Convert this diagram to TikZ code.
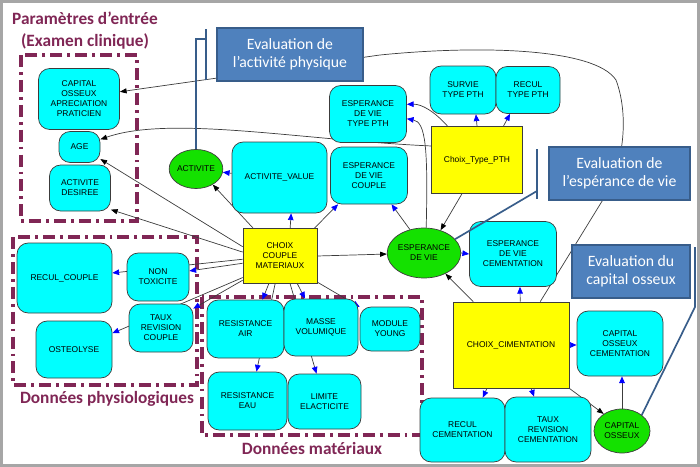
\documentclass[tikz,border=0pt]{standalone}
\usepackage{fontspec}
\setmainfont{Carlito}
\newfontfamily\netfont{Liberation Sans}
\usetikzlibrary{arrows.meta,shapes.geometric,backgrounds}
\definecolor{maroonA}{RGB}{128,38,85}
\definecolor{evalA}{RGB}{79,129,189}
\definecolor{evalB}{RGB}{56,93,138}
\definecolor{cyanA}{RGB}{0,255,255}
\definecolor{yellowA}{RGB}{255,255,0}
\definecolor{greenA}{RGB}{20,225,0}
\definecolor{edgeA}{RGB}{60,60,60}
\newcommand{\dashframe}[2]{\draw[maroonA,line width=2.8pt,dash pattern=on 8.5pt off 3.6pt on 2pt off 3.6pt] #1 rectangle #2;}

\begin{document}
\begin{tikzpicture}[x=0.025cm,y=-0.025cm,
	net/.style={draw=edgeA,line width=0.5pt,inner sep=0pt,align=center,font=\netfont\fontsize{6}{7.1}\selectfont},
	cbox/.style={net,fill=cyanA,rounded corners=8pt},
	ybox/.style={net,fill=yellowA},
	gnode/.style={net,ellipse,fill=greenA},
	evalbox/.style={draw=evalB,line width=1.4pt,fill=evalA,text=white,inner sep=0pt,align=center,font=\fontsize{11.2}{13}\selectfont},
	ttl/.style={text=maroonA,font=\fontsize{12.3}{14}\selectfont\bfseries},
	sz/.style 2 args={minimum width=#1*0.025cm,minimum height=#2*0.025cm},
	blk/.style={edgeA,line width=0.5pt,-{Triangle[length=4.8pt,width=3.6pt,color=black]}},
	blu/.style={edgeA,line width=0.5pt,-{Triangle[length=4.8pt,width=4pt,color=blue]}},
	brk/.style={evalB,line width=1.2pt}]
	\useasboundingbox (0,0) rectangle (700,467);

	\node[ttl] (ttlparam) at (85,18) {Paramètres d’entrée};
	\node[ttl] (ttlexam) at (85,41) {(Examen clinique)};
	\node[ttl] (ttlphys) at (107,399) {Données physiologiques};
	\node[ttl] (ttlmat) at (312,448) {Données matériaux};

	\node[cbox,sz={81}{61}] (capprat) at (79,99) {CAPITAL\\OSSEUX\\APRECIATION\\PRATICIEN};
	\node[cbox,sz={41}{31}] (age) at (79.5,147) {AGE};
	\node[cbox,sz={61}{46}] (actdes) at (80,188) {ACTIVITE\\DESIREE};
	\node[gnode,sz={53}{39}] (act) at (196,169) {ACTIVITE};
	\node[cbox,sz={95}{71}] (actval) at (279.5,177.5) {ACTIVITE\_VALUE};
	\node[cbox,sz={77}{57}] (evtpth) at (368,114) {ESPERANCE\\DE VIE\\TYPE PTH};
	\node[cbox,sz={77}{57}] (evcpl) at (369,175.5) {ESPERANCE\\DE VIE\\COUPLE};
	\node[cbox,sz={66}{48}] (survie) at (463,90) {SURVIE\\TYPE PTH};
	\node[cbox,sz={64}{47}] (recpth) at (528,90) {RECUL\\TYPE PTH};
	\node[ybox,sz={91}{67}] (choixpth) at (477,160) {Choix\_Type\_PTH};
	\node[ybox,sz={74}{55}] (choixcpl) at (280,256) {CHOIX\\COUPLE\\MATERIAUX};
	\node[gnode,sz={66}{50}] (espvie) at (424,253) {ESPERANCE\\DE VIE};
	\node[cbox,sz={87}{65}] (evcem) at (513,254) {ESPERANCE\\DE VIE\\CEMENTATION};
	\node[ybox,sz={116}{86}] (choixcim) at (511,345) {CHOIX\_CIMENTATION};
	\node[cbox,sz={86}{65}] (capcem) at (620,343.5) {CAPITAL\\OSSEUX\\CEMENTATION};
	\node[cbox,sz={85}{64}] (reccem) at (462.5,430) {RECUL\\CEMENTATION};
	\node[cbox,sz={86}{65}] (tauxcem) at (548,429.5) {TAUX\\REVISION\\CEMENTATION};
	\node[gnode,sz={56}{44}] (capos) at (622,431) {CAPITAL\\OSSEUX};
	\node[cbox,sz={95}{70}] (reccpl) at (64.5,278) {RECUL\_COUPLE};
	\node[cbox,sz={62}{48}] (nontox) at (158,277) {NON\\TOXICITE};
	\node[cbox,sz={64}{48}] (tauxcpl) at (161,328) {TAUX\\REVISION\\COUPLE};
	\node[cbox,sz={76}{57}] (osteo) at (74,349.5) {OSTEOLYSE};
	\node[cbox,sz={77}{58}] (resair) at (245.5,329) {RESISTANCE\\AIR};
	\node[cbox,sz={74}{57}] (masse) at (321,327.5) {MASSE\\VOLUMIQUE};
	\node[cbox,sz={60}{44}] (module) at (390,329) {MODULE\\YOUNG};
	\node[cbox,sz={79}{58}] (reseau) at (247.5,401) {RESISTANCE\\EAU};
	\node[cbox,sz={73}{55}] (limite) at (324.5,401.5) {LIMITE\\ELACTICITE};

	\node[evalbox,sz={146}{53}] (evact) at (290,54.5) {Evaluation de\\l’activité physique};
	\node[evalbox,sz={141}{53}] (evesp) at (619.5,173.5) {Evaluation de\\l’espérance de vie};
	\node[evalbox,sz={118}{53}] (evcap) at (631,271.5) {Evaluation du\\capital osseux};

	\coordinate (brA) at (206,39);
	\coordinate (brE) at (537,191);
	\coordinate (brC) at (695,307);
	\draw[brk] (206,29) -- (206,80);
	\draw[brk] (brA) -| (act.north);
	\draw[brk] (537,149) -- (537,199);
	\draw[brk] (brE) -- (espvie.24);
	\draw[brk] (695,247) -- (brC) -- (capos.39);

	\begin{pgfonlayer}{background}
		\dashframe{(21,55)}{(137,221)}
		\dashframe{(13,237)}{(197,385)}
		\dashframe{(202,297)}{(422,435)}
		\draw[blk] (choixcpl.166) -- (age.-30);
		\draw[blk] (choixcpl.174) -- (actdes.-35);
		\draw[blk] (choixcpl.134) -- (act.-43);
		\draw[blu] (choixcpl.70) -- (actval.-72);
		\draw[blu] (choixcpl.39) -- (evcpl.-137);
		\draw[blk] (choixcpl.east) -- (espvie);
		\draw[blu] (choixcpl.191) -- (nontox.11);
		\draw[blu] (choixcpl.185) -- (reccpl.6);
		\draw[blu] (choixcpl.213) -- (tauxcpl.31);
		\draw[blu] (choixcpl.210) -- (osteo.23);
		\draw[blu] (choixcpl.248) -- (resair.60);
		\draw[blu] (choixcpl.260) -- (reseau.73);
		\draw[blu] (choixcpl.-70) -- (limite.106);
		\draw[blu] (choixcpl.-58) -- (masse.119);
		\draw[blu] (choixcpl.-35) -- (module.144);
		\draw[blu] (actval.175) -- (act);
		\draw[blu] (choixpth.north) -- (survie.-62);
		\draw[blu] (choixpth.52) -- (recpth.233);
		\draw[blu] (choixpth.131) .. controls (435,112) and (422,104) .. (evtpth.14);
		\draw[blk] (choixpth.-114) -- (espvie.54);
		\draw[blk] (choixpth.163) .. controls (300,140) and (170,115) .. (age.20);
		\draw[blu] (espvie.121) -- (evcpl.-52);
		\draw[blu] (espvie.85) .. controls (428,150) and (426,122) .. (evtpth.-7);
		\draw[blu] (espvie.east) -- (evcem.west);
		\draw[blk] (choixcim.131) -- (espvie.-44);
		\draw[blu] (choixcim.78) -- (evcem.-78);
		\draw[blu] (choixcim.east) -- (choixcim.east -| capcem.west);
		\draw[blu] (choixcim.-119) -- (reccem.58);
		\draw[blu] (choixcim.-65) -- (tauxcem.113);
		\draw[blk] (choixcim.south east) -- (capos.137);
		\draw[blu] (capos.north) -- (capos.north |- capcem.south);
		\draw[blk] (choixcim.56) -- (604,198) .. controls (626,160) and (628,112) .. (616,80) .. controls (595,48) and (480,45) .. (380,55) -- (capprat.10);
	\end{pgfonlayer}

	\draw[black!35,line width=2.1pt] (1.5,1.5) rectangle (698.5,465.5);
\end{tikzpicture}
\end{document}
